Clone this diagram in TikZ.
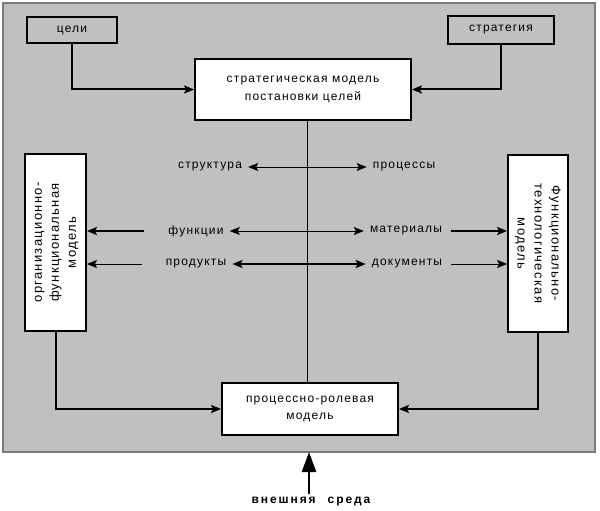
\documentclass[tikz,border=0pt]{standalone}
\usepackage{fontspec}
\usepackage{graphicx}
\setmainfont{Liberation Sans}[LetterSpace=10]
\usetikzlibrary{arrows.meta}
\definecolor{gris}{HTML}{C0C0C0}
\definecolor{grisfonce}{HTML}{7A7A7A}
\newcommand{\debout}[1]{{\fontsize{13}{17}\selectfont\addfontfeatures{LetterSpace=10}\begin{tabular}{@{}c@{}}#1\end{tabular}}}

\begin{document}
\begin{tikzpicture}[x=1pt,y=-1pt,
    boite/.style={draw=black,line width=1.8pt,fill=white,align=center,inner sep=0pt,font=\fontsize{12}{18}\selectfont},
    petite/.style={boite,fill=gris},
    fleche/.style={-{Stealth[length=10pt,width=8pt,inset=2pt]},line width=0.8pt},
    grosse/.style={fleche,line width=2pt},
    lib/.style={inner sep=6pt,font=\fontsize{12}{14}\selectfont}]
    \useasboundingbox (0,0) rectangle (600,511);
    \draw[grisfonce,line width=1.5pt,fill=gris] (3,3) rectangle (595,452); %fond
    % les boites
    \node[petite,minimum width=90,minimum height=26] (celi) at (72,30) {цели};
    \node[petite,minimum width=106,minimum height=28] (strategia) at (501,30) {стратегия};
    \node[boite,minimum width=216,minimum height=61] (strat) at (303,89.5) {стратегическая модель\\постановки целей};
    \node[boite,minimum width=61,minimum height=177] (orgf) at (55.5,242.5) {\rotatebox{90}{\debout{организационно-\\функциональная\\модель}}};
    \node[boite,minimum width=60,minimum height=177] (ftm) at (538,243.5) {\rotatebox{-90}{\debout{Функционально-\\технологическая\\модель}}};
    \node[boite,minimum width=176,minimum height=52,font=\fontsize{12}{17}\selectfont] (proc) at (310,409) {процессно-ролевая\\модель};
    % les libelles
    \node[lib] (struct) at (210,167) {структура};
    \node[lib] (procs) at (404,167) {процессы};
    \node[lib] (fonc) at (196,231) {функции};
    \node[lib] (prod) at (196,264) {продукты};
    \node[lib] (mat) at (406,231) {материалы};
    \node[lib] (doc) at (407,264) {документы};
    \node[inner sep=3pt,font=\fontsize{12}{14}\selectfont\bfseries\addfontfeatures{LetterSpace=16}] (ext) at (311,502) {внешняя\quad среда};
    \coordinate (axe) at (307,0);
    \coordinate (bord) at (309,452);
    % les liaisons
    \draw[grosse] (celi.south) |- (strat.west); %cible
    \draw[grosse] (strategia.south) |- (strat.east);
    \draw[grosse] (orgf.south) |- (proc.west);
    \draw[grosse] (ftm.south) |- (proc.east);
    \draw[line width=0.8pt] (strat.south -| axe) -- (proc.north -| axe); %axe vertical
    \draw[fleche] (axe |- struct) -- (struct.east);
    \draw[fleche] (axe |- procs) -- (procs.west);
    \draw[fleche] (axe |- fonc) -- (fonc.east);
    \draw[fleche] (axe |- mat) -- (mat.west);
    \draw[grosse] (axe |- prod) -- (prod.east);
    \draw[grosse] (axe |- doc) -- (doc.west);
    \draw[grosse,shorten <=18pt] (fonc.west) -- (orgf.east |- fonc); %vers la gauche
    \draw[fleche,shorten <=18pt] (prod.west) -- (orgf.east |- prod);
    \draw[grosse,shorten <=3pt] (mat.east) -- (ftm.west |- mat); %vers la droite
    \draw[fleche,shorten <=3pt] (doc.east) -- (ftm.west |- doc);
    \draw[line width=2.5pt,-{Triangle[length=20pt,width=14pt]}] (ext.north -| bord) -- (bord); %environnement
\end{tikzpicture}
\end{document}
